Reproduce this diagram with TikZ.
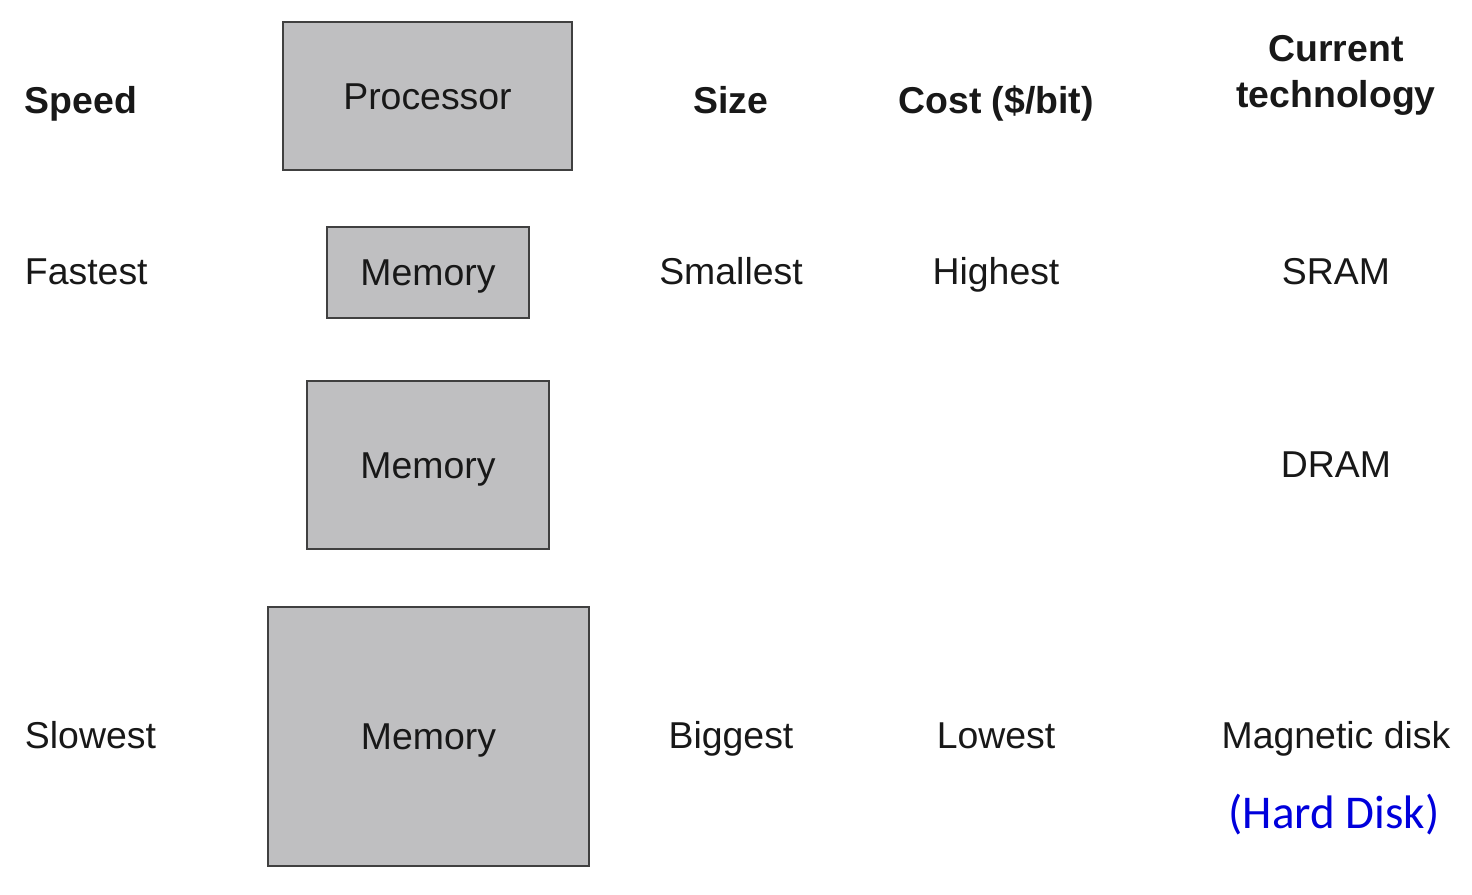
\documentclass[tikz,border=0pt]{standalone}
\usepackage{fontspec}
\setmainfont{Liberation Sans}
\newfontfamily\calib{Carlito}
\definecolor{boxfill}{RGB}{191,191,193}
\definecolor{boxline}{RGB}{64,64,64}
\definecolor{txtc}{RGB}{24,24,24}
\definecolor{hdblue}{RGB}{0,0,220}
\begin{document}
\begin{tikzpicture}[x=0.5pt,y=-0.5pt,
  every node/.style={inner sep=0pt, outer sep=0pt, text=txtc,
    font=\fontsize{18.7}{22}\selectfont, text height=13.4pt, text depth=0pt},
  membox/.style={draw=boxline, line width=1pt, fill=boxfill},
  hdr/.style={font=\fontsize{18.7}{22}\selectfont\bfseries},
]
\useasboundingbox (0,0) rectangle (1472,894);
% boxes
\node[membox, minimum width=144.5pt, minimum height=74pt] (proc) at (427.5,96) {Processor};
\node[membox, minimum width=101pt, minimum height=45.5pt] (mem1) at (428,272.5) {Memory};
\node[membox, minimum width=121pt, minimum height=84pt] (mem2) at (428,465) {Memory};
\node[membox, minimum width=160.5pt, minimum height=129.5pt] (mem3) at (428.5,736.5) {Memory};
% headers
\node[hdr, anchor=west] (speed) at (25,100) {Speed};
\node[hdr] (size) at (731,100) {Size};
\node[hdr] (cost) at (996,100) {Cost (\$/bit)};
\node[hdr] (cur) at (1336,48) {Current};
\node[hdr] (tech) at (1336,94) {technology};
% row 1
\node[anchor=west] (fast) at (25,271) {Fastest};
\node (small) at (731,271) {Smallest};
\node (high) at (996,271) {Highest};
\node (sram) at (1336,271) {SRAM};
% row 2
\node (dram) at (1336,464) {DRAM};
% row 3
\node[anchor=west] (slow) at (25,735) {Slowest};
\node (big) at (731,735) {Biggest};
\node (low) at (996,735) {Lowest};
\node (mag) at (1336,735) {Magnetic disk};
\node[font=\fontsize{23.5}{28}\selectfont\calib, text=hdblue, text height=15pt] (hd) at (1334,813) {(Hard Disk)};
\end{tikzpicture}
\end{document}
